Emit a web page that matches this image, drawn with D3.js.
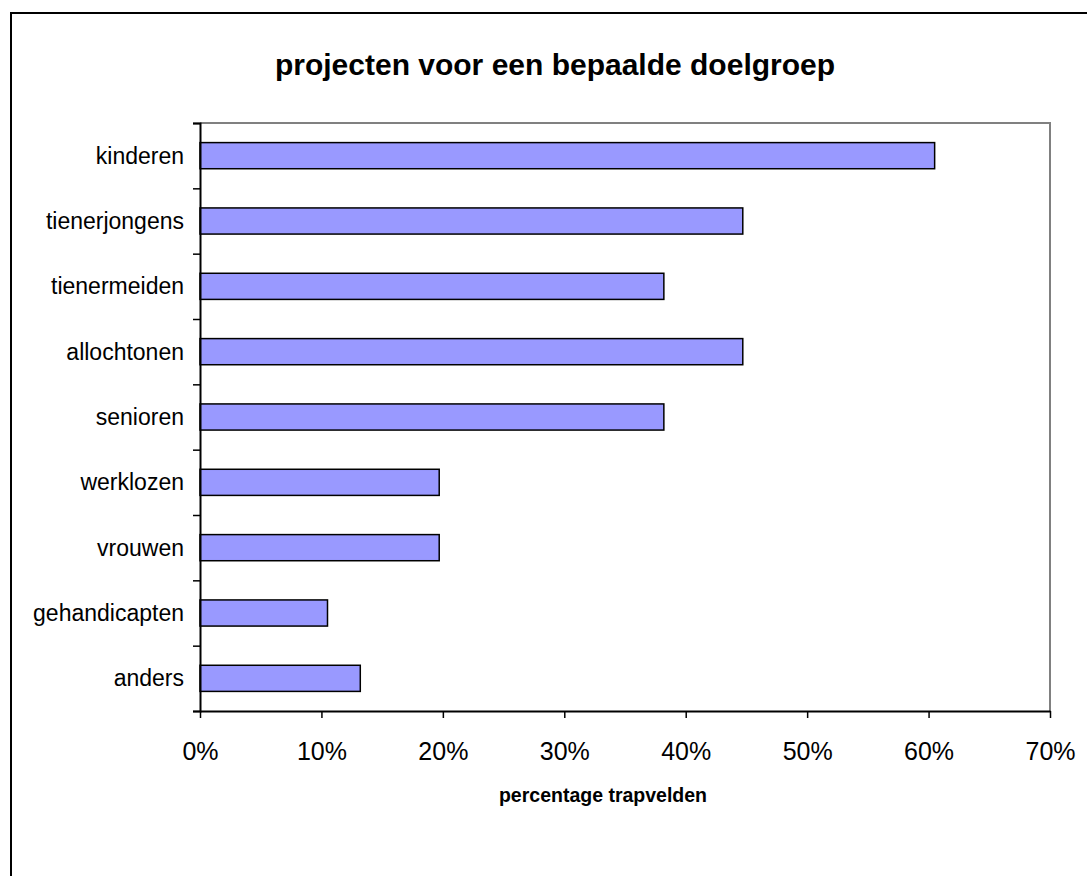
<!DOCTYPE html>
<html>
<head>
<meta charset="utf-8">
<script src="https://cdn.jsdelivr.net/npm/d3@7"></script>
<style>
  body { margin: 0; background: #fff; }
  text { font-family: "Liberation Sans", Arial, sans-serif; }
</style>
</head>
<body>
<div id="grafico"></div>
<script>
// datos: percentage trapvelden per doelgroep
var categorias = ["kinderen", "tienerjongens", "tienermeiden", "allochtonen", "senioren",
                  "werklozen", "vrouwen", "gehandicapten", "anders"];
var valores = [60.5, 44.7, 38.2, 44.7, 38.2, 19.7, 19.7, 10.5, 13.2];
var ticksX = [0, 10, 20, 30, 40, 50, 60, 70];

var titulo = "projecten voor een bepaalde doelgroep";
var tituloX = "percentage trapvelden";

var W = 1087, H = 876;
var margin = {top: 123, right: 37, bottom: 165, left: 200},
    w = W - margin.left - margin.right,
    h = H - margin.top - margin.bottom;

var svg = d3.select("#grafico").append("svg")
  .attr("width", W)
  .attr("height", H);

// marco exterior
svg.append("rect")
  .attr("x", 11).attr("y", 13)
  .attr("width", W + 20).attr("height", H + 20)
  .attr("fill", "none")
  .attr("stroke", "#000")
  .attr("stroke-width", 2);

var g = svg.append("g")
  .attr("transform", "translate(" + margin.left + "," + margin.top + ")");

// escalas
var x = d3.scaleLinear().domain([0, 70]).range([0, w]);
var y = d3.scaleBand().domain(categorias).range([0, h])
  .paddingInner(0.6).paddingOuter(0.3);
var yTicks = d3.scaleLinear().domain([0, categorias.length]).range([0, h]);

// borde gris del area de dibujo (arriba y derecha)
g.append("path")
  .attr("d", "M0,0H" + w + "V" + h)
  .attr("fill", "none")
  .attr("stroke", "#808080")
  .attr("stroke-width", 2);

// barras
g.selectAll("rect.barra")
  .data(valores)
  .enter()
  .append("rect")
  .attr("class", "barra")
  .attr("x", x(0))
  .attr("y", function(d, i) { return y(categorias[i]); })
  .attr("width", function(d) { return x(d) - x(0); })
  .attr("height", y.bandwidth())
  .attr("fill", "#9999ff")
  .attr("stroke", "#000")
  .attr("stroke-width", 1.5);

// eje y: solo marcas entre categorias
var yAxis = d3.axisLeft(yTicks)
  .tickValues(d3.range(categorias.length + 1))
  .tickSize(7).tickFormat("");
var gy = g.append("g").call(yAxis);
gy.select(".domain").attr("stroke", "#000").attr("stroke-width", 2);
gy.selectAll(".tick line").attr("stroke", "#000").attr("stroke-width", 1.5);

// etiquetas de categorias
g.selectAll("text.cat")
  .data(categorias)
  .enter()
  .append("text")
  .attr("class", "cat")
  .attr("x", -16)
  .attr("y", function(d) { return y(d) + y.bandwidth() / 2; })
  .attr("dy", "0.35em")
  .attr("text-anchor", "end")
  .style("font-size", "23px")
  .attr("fill", "#000")
  .text(function(d) { return d; });

// eje x
var xAxis = d3.axisBottom(x)
  .tickValues(ticksX)
  .tickSize(7).tickSizeOuter(0)
  .tickPadding(24)
  .tickFormat(function(d) { return d + "%"; });
var gx = g.append("g")
  .attr("transform", "translate(0," + h + ")")
  .call(xAxis);
gx.select(".domain").attr("stroke", "#000").attr("stroke-width", 2);
gx.selectAll(".tick line").attr("stroke", "#000").attr("stroke-width", 1.5);
gx.selectAll(".tick text")
  .attr("fill", "#000")
  .style("font-size", "25px")
  .style("font-family", "'Liberation Sans', Arial, sans-serif");

// titulo
svg.append("text")
  .attr("x", 555).attr("y", 75)
  .attr("text-anchor", "middle")
  .style("font-size", "30px")
  .style("font-weight", "bold")
  .text(titulo);

// titulo del eje x
svg.append("text")
  .attr("x", 603).attr("y", 802)
  .attr("text-anchor", "middle")
  .style("font-size", "19.5px")
  .style("font-weight", "bold")
  .text(tituloX);
</script>
</body>
</html>
